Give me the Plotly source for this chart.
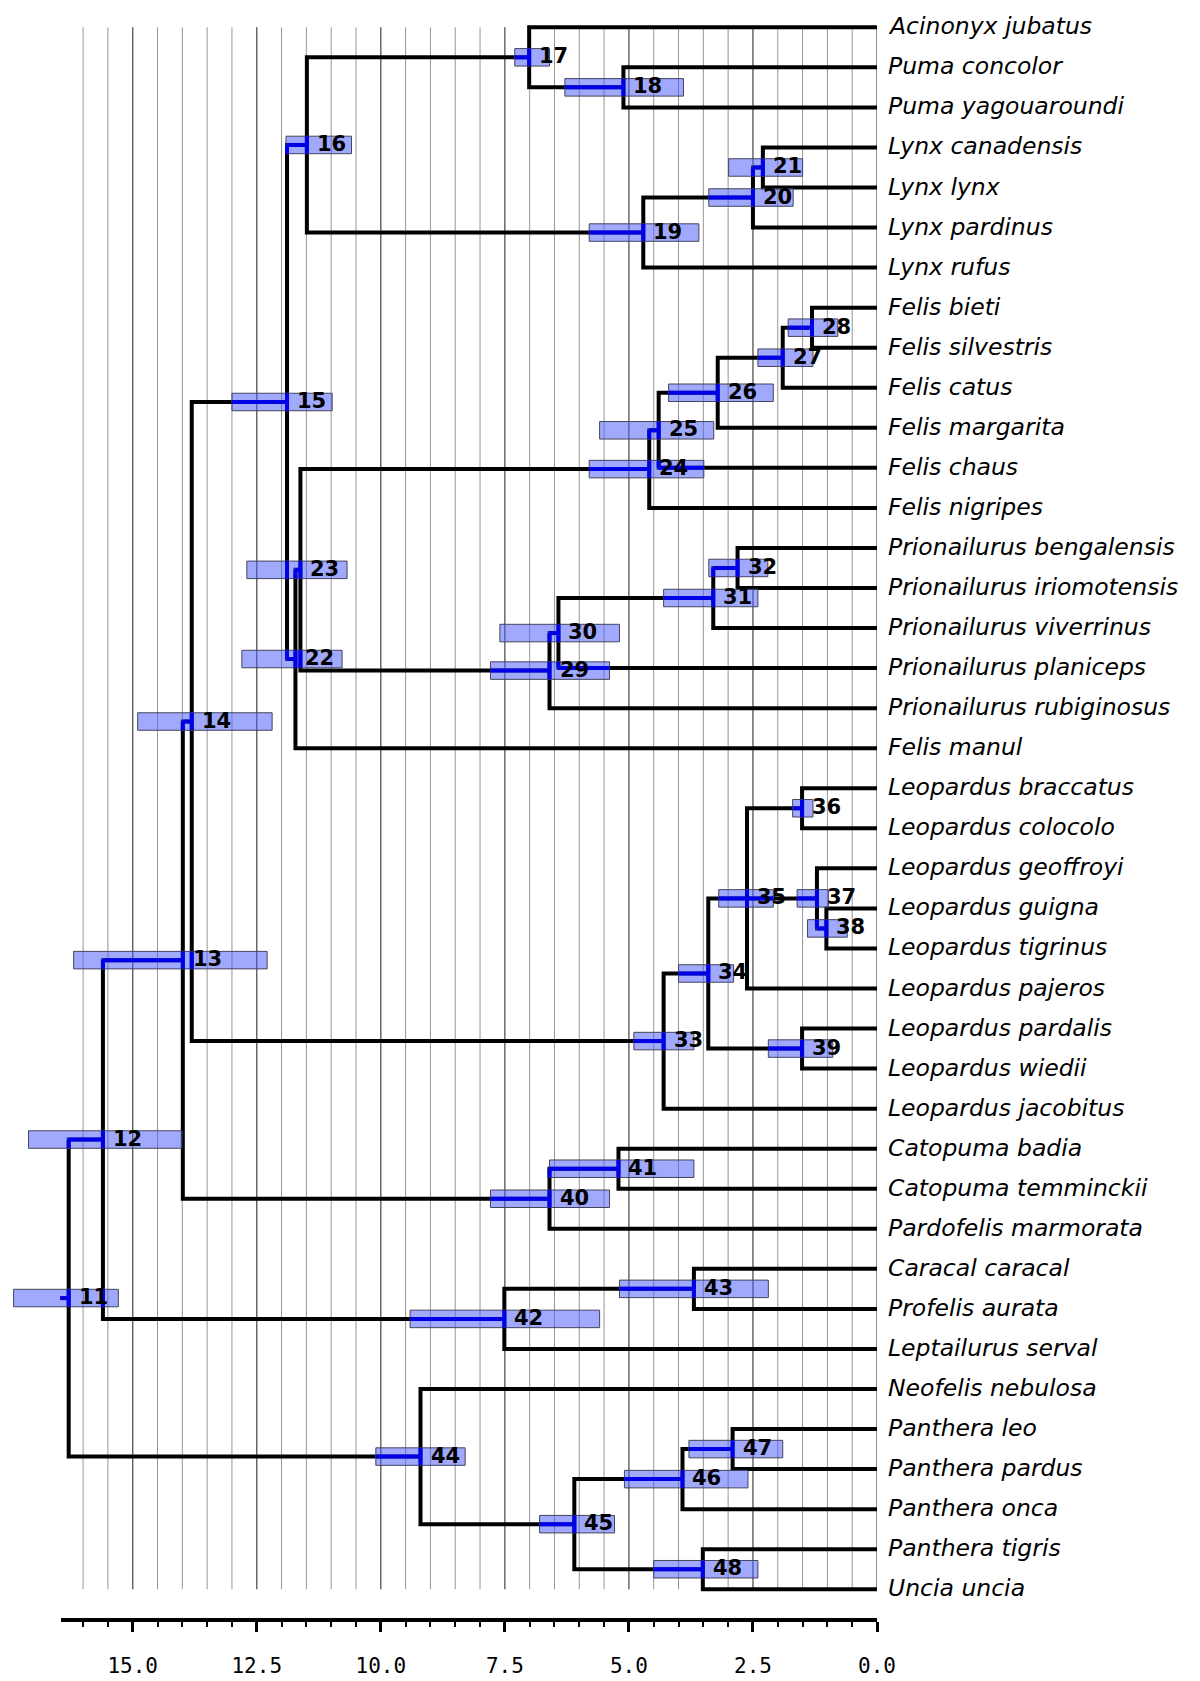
import plotly.graph_objects as go

# ---------------- data ----------------
leaf_names = [
    "Acinonyx jubatus", "Puma concolor", "Puma yagouaroundi",
    "Lynx canadensis", "Lynx lynx", "Lynx pardinus", "Lynx rufus",
    "Felis bieti", "Felis silvestris", "Felis catus", "Felis margarita",
    "Felis chaus", "Felis nigripes",
    "Prionailurus bengalensis", "Prionailurus iriomotensis", "Prionailurus viverrinus",
    "Prionailurus planiceps", "Prionailurus rubiginosus", "Felis manul",
    "Leopardus braccatus", "Leopardus colocolo", "Leopardus geoffroyi",
    "Leopardus guigna", "Leopardus tigrinus", "Leopardus pajeros",
    "Leopardus pardalis", "Leopardus wiedii", "Leopardus jacobitus",
    "Catopuma badia", "Catopuma temminckii", "Pardofelis marmorata",
    "Caracal caracal", "Profelis aurata", "Leptailurus serval",
    "Neofelis nebulosa", "Panthera leo", "Panthera pardus", "Panthera onca",
    "Panthera tigris", "Uncia uncia",
]

node_ids = list(range(11, 49))

node_heights = [
    16.29, 15.60, 13.99, 13.81, 11.89, 11.49, 7.01, 5.11, 4.71, 2.50,   # 11-20
    2.30, 11.72, 11.62, 4.59, 4.40, 3.21, 1.90, 1.31, 6.60, 6.42,      # 21-30
    3.30, 2.81, 4.30, 3.40, 2.62, 1.51, 1.21, 1.02, 1.51, 6.60,        # 31-40
    5.21, 7.51, 3.69, 9.20, 6.10, 3.92, 2.91, 3.51,                    # 41-48
]

hpd_upper = [
    17.40, 17.10, 16.19, 14.90, 13.00, 11.91, 7.30, 6.29, 5.80, 3.39,
    2.99, 12.80, 12.70, 5.80, 5.59, 4.20, 2.40, 1.79, 7.79, 7.60,
    4.30, 3.39, 4.90, 4.00, 3.19, 1.70, 1.61, 1.40, 2.19, 7.79,
    6.60, 9.41, 5.19, 10.10, 6.80, 5.09, 3.79, 4.50,
]

hpd_lower = [
    15.29, 14.01, 12.29, 12.19, 10.98, 10.59, 6.60, 3.90, 3.59, 1.69,
    1.50, 10.78, 10.68, 3.49, 3.29, 2.09, 1.29, 0.79, 5.39, 5.19,
    2.40, 2.20, 3.69, 2.89, 2.09, 1.29, 0.98, 0.60, 0.89, 5.39,
    3.69, 5.59, 2.19, 8.30, 5.29, 2.60, 1.90, 2.40,
]

node_children = [
    [12, 44],                                        # 11
    [13, 42],                                        # 12
    [14, 40],                                        # 13
    [15, 33],                                        # 14
    [16, 22],                                        # 15
    [17, 19],                                        # 16
    ["Acinonyx jubatus", 18],                        # 17
    ["Puma concolor", "Puma yagouaroundi"],          # 18
    [20, "Lynx rufus"],                              # 19
    [21, "Lynx pardinus"],                           # 20
    ["Lynx canadensis", "Lynx lynx"],                # 21
    [23, "Felis manul"],                             # 22
    [24, 29],                                        # 23
    [25, "Felis nigripes"],                          # 24
    [26, "Felis chaus"],                             # 25
    [27, "Felis margarita"],                         # 26
    [28, "Felis catus"],                             # 27
    ["Felis bieti", "Felis silvestris"],             # 28
    [30, "Prionailurus rubiginosus"],                # 29
    [31, "Prionailurus planiceps"],                  # 30
    [32, "Prionailurus viverrinus"],                 # 31
    ["Prionailurus bengalensis", "Prionailurus iriomotensis"],  # 32
    [34, "Leopardus jacobitus"],                     # 33
    [35, 39],                                        # 34
    [36, 37, "Leopardus pajeros"],                   # 35
    ["Leopardus braccatus", "Leopardus colocolo"],   # 36
    ["Leopardus geoffroyi", 38],                     # 37
    ["Leopardus guigna", "Leopardus tigrinus"],      # 38
    ["Leopardus pardalis", "Leopardus wiedii"],      # 39
    [41, "Pardofelis marmorata"],                    # 40
    ["Catopuma badia", "Catopuma temminckii"],       # 41
    [43, "Leptailurus serval"],                      # 42
    ["Caracal caracal", "Profelis aurata"],          # 43
    ["Neofelis nebulosa", 45],                       # 44
    [46, 48],                                        # 45
    [47, "Panthera onca"],                           # 46
    ["Panthera leo", "Panthera pardus"],             # 47
    ["Panthera tigris", "Uncia uncia"],              # 48
]

root_stub_age = 16.46
axis_start_age = 16.45
grid_ages = [i * 0.5 for i in range(0, 33)]
axis_tick_vals = [0.0, 2.5, 5.0, 7.5, 10.0, 12.5, 15.0]
axis_tick_text = ["0.0", "2.5", "5.0", "7.5", "10.0", "12.5", "15.0"]

# ---------------- geometry / styles ----------------
PAGE_OFFSET = 8                      # default body margin of the html page
W, H = 1200 - PAGE_OFFSET, 1681 - PAGE_OFFSET
ZERO_PX = 877 - PAGE_OFFSET          # x pixel of age 0
PX_PER_UNIT = 49.62
M_L = 0
M_R = W - ZERO_PX
M_T = 2
AXIS_PX = 1620 - PAGE_OFFSET
M_B = H - AXIS_PX
PLOT_W = W - M_L - M_R
T_MAX = PLOT_W / PX_PER_UNIT
LEAF0_PX, LEAF_STEP_PX = 27.3 - PAGE_OFFSET, 40.05
y_range = [(AXIS_PX - LEAF0_PX) / LEAF_STEP_PX, (M_T - LEAF0_PX) / LEAF_STEP_PX]
BOX_HALF = 8.75 / LEAF_STEP_PX

TREE_W = 4
BLUE = "#0000e6"
BOX_FILL = "rgba(75,90,250,0.52)"
BOX_LINE = "#44445e"

# ---------------- tree layout ----------------
height_of = dict(zip(node_ids, node_heights))
kids_of = dict(zip(node_ids, node_children))
leaf_y = {n: i for i, n in enumerate(leaf_names)}
ycache = {}


def ypos(c):
    if isinstance(c, str):
        return leaf_y[c]
    if c not in ycache:
        ys = [ypos(k) for k in kids_of[c]]
        ycache[c] = (min(ys) + max(ys)) / 2.0
    return ycache[c]


def age(c):
    return 0.0 if isinstance(c, str) else height_of[c]


segs = []  # ('h', y, t0, t1) or ('v', t, y0, y1)
bx, by = [], []
for nid in node_ids:
    t = height_of[nid]
    kids = sorted(kids_of[nid], key=ypos)
    ys = [ypos(k) for k in kids]
    segs.append(("v", t, ys[0], ys[-1]))
    for k in kids:
        segs.append(("h", ypos(k), t, age(k)))
    bx += [age(kids[0]), t, t, age(kids[-1]), None]
    by += [ys[0], ys[0], ys[-1], ys[-1], None]
    for k in kids[1:-1]:
        bx += [t, age(k), None]
        by += [ypos(k), ypos(k), None]

root = node_ids[0]
segs.append(("h", ypos(root), root_stub_age, height_of[root]))
bx += [root_stub_age, height_of[root], None]
by += [ypos(root), ypos(root), None]

fig = go.Figure()

fig.add_trace(go.Scatter(
    x=bx, y=by, mode="lines", line=dict(color="black", width=TREE_W),
    hoverinfo="skip", showlegend=False, xaxis="x", yaxis="y",
))

# invisible trace that materialises the visible time axis
fig.add_trace(go.Scatter(
    x=[0], y=[0], mode="markers", marker=dict(opacity=0),
    hoverinfo="skip", showlegend=False, xaxis="x2", yaxis="y",
))

shapes = []
for g in grid_ages:
    major = abs(g / 2.5 - round(g / 2.5)) < 1e-9
    shapes.append(dict(
        type="line", xref="x", yref="y", x0=g, x1=g, y0=0, y1=len(leaf_names) - 1,
        line=dict(color="#5e5e5e" if major else "#969696", width=1.4 if major else 1),
        layer="below",
    ))

for nid, hi, lo in zip(node_ids, hpd_upper, hpd_lower):
    yc = ypos(nid)
    shapes.append(dict(
        type="rect", xref="x", yref="y", x0=hi, x1=lo, y0=yc - BOX_HALF, y1=yc + BOX_HALF,
        fillcolor=BOX_FILL, line=dict(color=BOX_LINE, width=1), layer="above",
    ))

for nid, hi, lo in zip(node_ids, hpd_upper, hpd_lower):
    yc = ypos(nid)
    ylo, yhi = yc - BOX_HALF, yc + BOX_HALF
    for s in segs:
        if s[0] == "h":
            _, y, a, b = s
            if ylo <= y <= yhi:
                s0, s1 = max(min(a, b), lo), min(max(a, b), hi)
                if s1 > s0:
                    shapes.append(dict(type="line", xref="x", yref="y", x0=s0, x1=s1,
                                       y0=y, y1=y, line=dict(color=BLUE, width=TREE_W),
                                       layer="above"))
        else:
            _, t, a, b = s
            if lo <= t <= hi:
                s0, s1 = max(a, ylo), min(b, yhi)
                if s1 > s0:
                    shapes.append(dict(type="line", xref="x", yref="y", x0=t, x1=t,
                                       y0=s0, y1=s1, line=dict(color=BLUE, width=TREE_W),
                                       layer="above"))

annotations = []
for nid in node_ids:
    annotations.append(dict(
        x=height_of[nid], y=ypos(nid), xref="x", yref="y", text=str(nid),
        showarrow=False, xanchor="left", yanchor="middle", xshift=8, yshift=1,
        font=dict(family="DejaVu Sans", size=21, color="black", weight="bold"),
    ))
for i, name in enumerate(leaf_names):
    annotations.append(dict(
        x=0, y=i, xref="x", yref="y", text=name, showarrow=False,
        xanchor="left", yanchor="middle", xshift=9, yshift=1,
        font=dict(family="DejaVu Sans", size=23.5, color="black", style="italic"),
    ))

axis2_start_frac = (PLOT_W - axis_start_age * PX_PER_UNIT) / PLOT_W

fig.update_layout(
    width=W, height=H, autosize=False,
    margin=dict(l=M_L, r=M_R, t=M_T, b=M_B, pad=0),
    paper_bgcolor="white", plot_bgcolor="rgba(0,0,0,0)",
    showlegend=False,
    xaxis=dict(range=[T_MAX, 0], domain=[0, 1], visible=False, fixedrange=True),
    yaxis=dict(range=y_range, domain=[0, 1], visible=False, fixedrange=True),
    xaxis2=dict(
        range=[axis_start_age, 0], domain=[axis2_start_frac, 1], anchor="free", position=0,
        showline=True, linewidth=3.5, linecolor="black", mirror=False,
        ticks="outside", ticklen=10, tickwidth=2.5, tickcolor="black",
        tickmode="array", tickvals=axis_tick_vals, ticktext=axis_tick_text,
        tickfont=dict(family="DejaVu Sans Mono", size=21, color="black"),
        ticklabelstandoff=16,
        showgrid=False, zeroline=False, fixedrange=True,
        minor=dict(ticks="outside", ticklen=5, tickwidth=2, tickcolor="black",
                   tickmode="linear", tick0=0, dtick=0.5, showgrid=False),
    ),
    shapes=shapes,
    annotations=annotations,
)

fig.write_html("out.html")
